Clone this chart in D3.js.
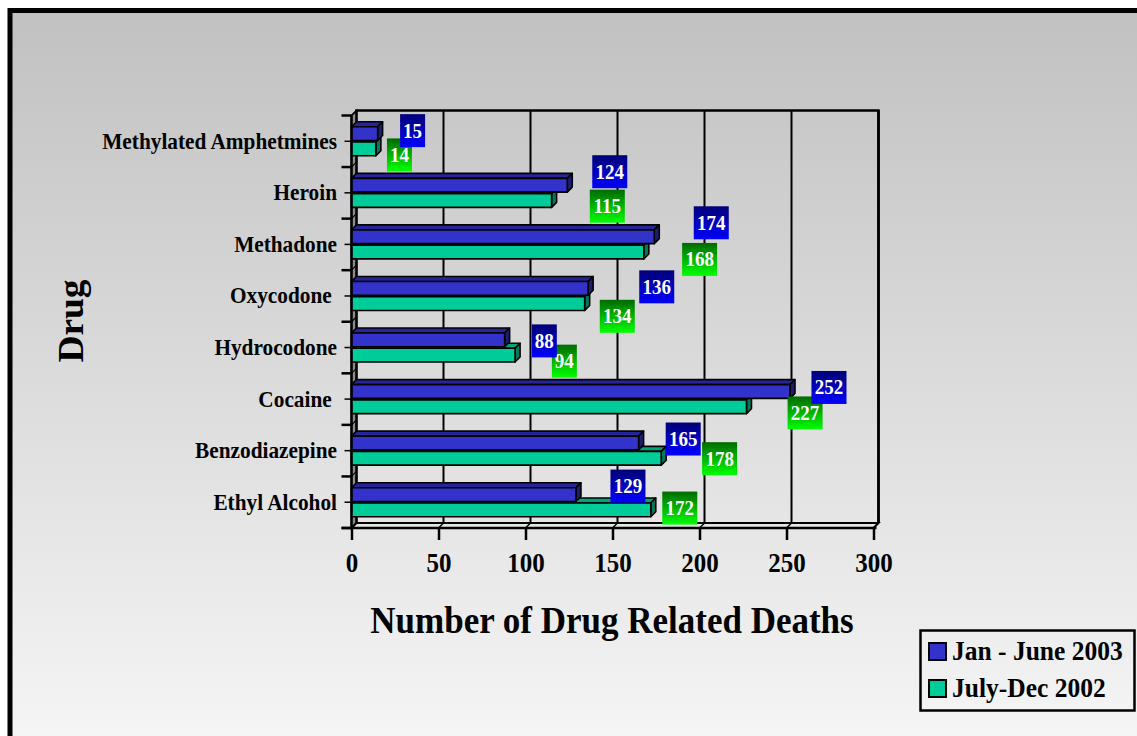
<!DOCTYPE html>
<html>
<head>
<meta charset="utf-8">
<script src="https://cdn.jsdelivr.net/npm/d3@7"></script>
<style>
  html, body { margin: 0; padding: 0; background: #fff; }
  svg { display: block; }
  text { font-family: "Liberation Serif", "Times New Roman", serif; font-weight: bold; }
</style>
</head>
<body>
<svg id="chart" width="1137" height="736"></svg>
<script>
// ---- data ----
const categories = ["Methylated Amphetmines", "Heroin", "Methadone", "Oxycodone ",
                    "Hydrocodone", "Cocaine ", "Benzodiazepine", "Ethyl Alcohol"];
const janJune2003 = [15, 124, 174, 136, 88, 252, 165, 129];
const julyDec2002 = [14, 115, 168, 134, 94, 227, 178, 172];
const seriesNames = ["Jan - June 2003", "July-Dec 2002"];
const xTickValues = [0, 50, 100, 150, 200, 250, 300];

// ---- value-label nudges (px, relative to the bar end / bar centre) ----
const janLabelNudge = [[35, -3], [42.5, -13.5], [57, -14], [68.6, -1.5], [39.7, 1], [39, -4], [44.6, -4], [52, -8.5]];
const julLabelNudge = [[23.6, 6], [55.7, 5.7], [55.8, 7.4], [32.6, 12.7], [49.3, 6], [58.6, 6.2], [58.4, 0.4], [29, -1.8]];

// ---- layout ----
const svg = d3.select("#chart");
const W = 1137, H = 736;
const depthX = 5, depthY = -5;          // 3-D offset from front to back
const plotLeft = 351.5, plotRight = 873.5, plotTop = 115.5, plotBottom = 528;
const TALL = 1.1;                       // slightly tall lettering

const x = d3.scaleLinear().domain([0, 300]).range([plotLeft, plotRight]);
const y = d3.scaleBand().domain(categories).range([plotTop, plotBottom]).padding(0);
const sub = d3.scaleBand().domain([0, 1]).range([-14.5, 14.5]).paddingInner(0.1);

const series = [
  { name: seriesNames[0], values: janJune2003, nudge: janLabelNudge,
    front: "#3333cc", top: "#25259a", side: "#1c1c72", box: ["#000077", "#0000ff"] },
  { name: seriesNames[1], values: julyDec2002, nudge: julLabelNudge,
    front: "#00cc99", top: "#00a57c", side: "#00785a", box: ["#006a00", "#00ff00"] }
];

// places a text at (px, py) with its letters stretched vertically
function placeText(sel, px, py) {
  return sel.attr("x", 0).attr("y", 0).attr("transform", `translate(${px},${py}) scale(1,${TALL})`);
}

// ---- defs: gradients ----
const defs = svg.append("defs");
const bg = defs.append("linearGradient").attr("id", "bg").attr("x1", 0).attr("y1", 0).attr("x2", 0).attr("y2", 1);
bg.append("stop").attr("offset", 0).attr("stop-color", "#c1c1c1");
bg.append("stop").attr("offset", 1).attr("stop-color", "#f7f7f7");
series.forEach((s, i) => {
  const g = defs.append("linearGradient").attr("id", "box" + i).attr("x1", 0).attr("y1", 0).attr("x2", 0).attr("y2", 1);
  g.append("stop").attr("offset", 0).attr("stop-color", s.box[0]);
  g.append("stop").attr("offset", 1).attr("stop-color", s.box[1]);
});

// ---- background and frame ----
svg.append("rect").attr("x", 0).attr("y", 0).attr("width", W).attr("height", H).attr("fill", "#fff");
svg.append("rect").attr("x", 10).attr("y", 10.5).attr("width", W + 20).attr("height", H + 20)
  .attr("fill", "url(#bg)").attr("stroke", "#000").attr("stroke-width", 5);

// ---- 3-D walls ----
const walls = svg.append("g");
const backLeft = plotLeft + depthX, backRight = plotRight + depthX;
const backTop = plotTop + depthY, backBottom = plotBottom + depthY;

// left side wall
walls.append("path")
  .attr("d", `M${plotLeft},${plotTop}L${backLeft},${backTop}L${backLeft},${backBottom}L${plotLeft},${plotBottom}Z`)
  .attr("fill", "#8c8c8c").attr("stroke", "#000").attr("stroke-width", 1.5);
// floor
walls.append("path")
  .attr("d", `M${plotLeft},${plotBottom}L${backLeft},${backBottom}L${backRight},${backBottom}L${plotRight},${plotBottom}Z`)
  .attr("fill", "none").attr("stroke", "#000").attr("stroke-width", 2);
// back wall outline
walls.append("path")
  .attr("d", `M${backLeft},${backBottom}L${backLeft},${backTop}L${backRight},${backTop}L${backRight},${backBottom}`)
  .attr("fill", "none").attr("stroke", "#000").attr("stroke-width", 2.5);

// vertical gridlines on back wall + floor
xTickValues.forEach(v => {
  if (v === 0) return;
  walls.append("line")
    .attr("x1", x(v) + depthX).attr("x2", x(v) + depthX)
    .attr("y1", backTop).attr("y2", backBottom)
    .attr("stroke", "#000").attr("stroke-width", v === 300 ? 2.5 : 2);
  walls.append("line")
    .attr("x1", x(v) + depthX).attr("x2", x(v))
    .attr("y1", backBottom).attr("y2", plotBottom)
    .attr("stroke", "#000").attr("stroke-width", 1.5);
});
// category boundaries across the left wall
for (let i = 0; i <= categories.length; i++) {
  const yy = plotTop + i * y.step();
  walls.append("line").attr("x1", plotLeft).attr("x2", backLeft)
    .attr("y1", yy).attr("y2", yy + depthY).attr("stroke", "#000").attr("stroke-width", 1.2);
}

// ---- bars ----
const bars = svg.append("g");
categories.forEach((cat, i) => {
  const cy = y(cat) + y.bandwidth() / 2;
  // lower series first so the upper bar covers its top face
  [1, 0].forEach(si => {
    const s = series[si];
    const v = s.values[i];
    const y0 = cy + sub(si), h = sub.bandwidth();
    const x0 = x(0), x1 = x(v);
    const g = bars.append("g").attr("stroke", "#000").attr("stroke-width", 1.6).attr("stroke-linejoin", "round");
    // top face
    g.append("path")
      .attr("d", `M${x0},${y0}L${x0 + depthX},${y0 + depthY}L${x1 + depthX},${y0 + depthY}L${x1},${y0}Z`)
      .attr("fill", s.top);
    // right side face
    g.append("path")
      .attr("d", `M${x1},${y0}L${x1 + depthX},${y0 + depthY}L${x1 + depthX},${y0 + h + depthY}L${x1},${y0 + h}Z`)
      .attr("fill", s.side);
    // front face
    g.append("rect").attr("x", x0).attr("y", y0).attr("width", x1 - x0).attr("height", h)
      .attr("fill", s.front);
  });
});

// ---- front axes ----
const axes = svg.append("g");
// y axis line and ticks (boundaries + centres)
axes.append("line").attr("x1", plotLeft).attr("x2", plotLeft).attr("y1", plotTop).attr("y2", plotBottom)
  .attr("stroke", "#000").attr("stroke-width", 2.5);
for (let i = 0; i <= categories.length; i++) {
  const yy = plotTop + i * y.step();
  axes.append("line").attr("x1", plotLeft - 10).attr("x2", plotLeft).attr("y1", yy).attr("y2", yy)
    .attr("stroke", "#000").attr("stroke-width", 2.5);
}
categories.forEach(c => {
  const yy = y(c) + y.bandwidth() / 2;
  axes.append("line").attr("x1", plotLeft - 7).attr("x2", plotLeft).attr("y1", yy).attr("y2", yy)
    .attr("stroke", "#000").attr("stroke-width", 1.5);
});

// x axis
const xAxis = d3.axisBottom(x).tickValues(xTickValues).tickSize(12).tickPadding(10).tickFormat(d3.format("d"));
const xg = axes.append("g").attr("transform", `translate(0,${plotBottom})`).call(xAxis);
xg.select(".domain").attr("stroke", "#000").attr("stroke-width", 2.5)
  .attr("d", `M${plotLeft - 10},0H${plotRight + 3}`);
xg.selectAll(".tick line").attr("stroke", "#000").attr("stroke-width", 2.5);
xg.selectAll(".tick text").attr("fill", "#000").attr("font-size", 25)
  .attr("font-family", "'Liberation Serif', 'Times New Roman', serif").attr("font-weight", "bold")
  .attr("dy", null)
  .each(function () { placeText(d3.select(this), 0, 44); });

// category labels
axes.selectAll("text.cat").data(categories).join("text")
  .attr("class", "cat")
  .attr("text-anchor", "end").attr("font-size", 21.3).style("white-space", "pre")
  .attr("fill", "#000").text(d => d)
  .each(function (d) { placeText(d3.select(this), 337, y(d) + y.bandwidth() / 2 + 7.5); });

// ---- value labels ----
const labels = svg.append("g");
[1, 0].forEach(si => {
  const s = series[si];
  categories.forEach((cat, i) => {
    const v = s.values[i];
    const cy = y(cat) + y.bandwidth() / 2 + sub(si) + sub.bandwidth() / 2;
    const bx = x(v) + s.nudge[i][0], by = cy + s.nudge[i][1];
    const txt = String(v);
    const bw = txt.length * 10 + 5, bh = 33;
    labels.append("rect").attr("x", bx - bw / 2).attr("y", by - bh / 2).attr("width", bw).attr("height", bh)
      .attr("fill", `url(#box${si})`);
    placeText(labels.append("text"), bx, by + 7)
      .attr("text-anchor", "middle").attr("font-size", 19).attr("fill", "#fff").text(txt);
  });
});

// ---- axis titles ----
placeText(svg.append("text"), 612, 633)
  .attr("text-anchor", "middle").attr("font-size", 35).attr("fill", "#000").text("Number of Drug Related Deaths");
svg.append("text").attr("transform", "translate(83,321) rotate(-90) scale(1.07,1)").attr("text-anchor", "middle")
  .attr("font-size", 35).attr("fill", "#000").text("Drug");

// ---- legend ----
const legend = svg.append("g");
legend.append("rect").attr("x", 920.5).attr("y", 630.5).attr("width", 214).attr("height", 80)
  .attr("fill", "none").attr("stroke", "#000").attr("stroke-width", 2.5);
series.forEach((s, i) => {
  const ly = 643 + i * 37;
  legend.append("rect").attr("x", 929).attr("y", ly).attr("width", 17).attr("height", 17)
    .attr("fill", s.front).attr("stroke", "#000").attr("stroke-width", 2);
  placeText(legend.append("text"), 952, ly + 17)
    .attr("font-size", 25.5).attr("fill", "#000").text(s.name);
});
</script>
</body>
</html>
